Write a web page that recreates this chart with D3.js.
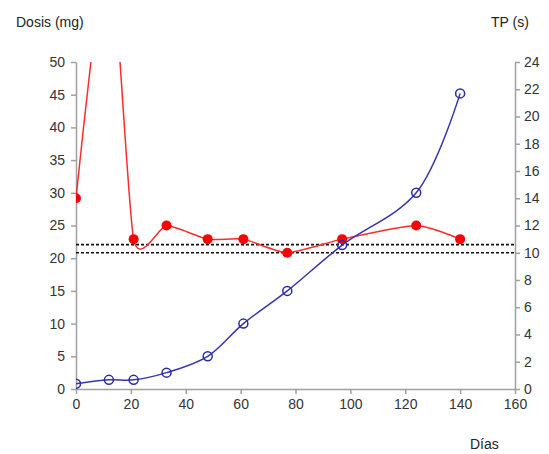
<!DOCTYPE html>
<html>
<head>
<meta charset="utf-8">
<script src="https://cdn.jsdelivr.net/npm/d3@7"></script>
<style>
  body { margin: 0; background: #fff; }
  text { font-family: "Liberation Sans", Arial, sans-serif; }
</style>
</head>
<body>
<div id="chart"></div>
<script>
// data
const dias = [0, 12, 21, 33, 48, 61, 77, 97, 124, 140];
const dosis = [0.8, 1.4, 1.4, 2.5, 5, 10, 15, 22, 30, 45.2];
const tp = [14, 33, 11, 12, 11, 11, 10, 11, 12, 11];
const tpLimits = [10.6, 10];
const xTicks = [0, 20, 40, 60, 80, 100, 120, 140, 160];
const dosisTicks = [0, 5, 10, 15, 20, 25, 30, 35, 40, 45, 50];
const tpTicks = [0, 2, 4, 6, 8, 10, 12, 14, 16, 18, 20, 22, 24];

const width = 549;
const height = 454;
const margin = { top: 62, right: 34, bottom: 65, left: 76 };

const svg = d3.select("#chart")
  .append("svg")
  .attr("width", width)
  .attr("height", height);

const x = d3.scaleLinear().domain([0, 160]).range([margin.left, width - margin.right]);
const yLeft = d3.scaleLinear().domain([0, 50]).range([height - margin.bottom, margin.top]);
const yRight = d3.scaleLinear().domain([0, 24]).range([height - margin.bottom, margin.top]);

// clip so the red peak is cut at the top
svg.append("clipPath")
  .attr("id", "plotclip")
  .append("rect")
  .attr("x", margin.left)
  .attr("y", margin.top)
  .attr("width", width - margin.left - margin.right)
  .attr("height", height - margin.top - margin.bottom);

function styleAxis(g) {
  g.select(".domain").attr("stroke", "#a0a0a0").attr("stroke-width", 1.5);
  g.selectAll(".tick line").attr("stroke", "#a0a0a0").attr("stroke-width", 1.5);
  g.selectAll(".tick text")
    .attr("fill", "#333")
    .style("font-size", "14px")
    .style("font-family", "Liberation Sans, Arial, sans-serif");
}

// x axis
svg.append("g")
  .attr("transform", `translate(0, ${height - margin.bottom})`)
  .call(d3.axisBottom(x).tickValues(xTicks).tickSize(5).tickSizeOuter(0).tickPadding(5))
  .call(styleAxis);

// left axis
svg.append("g")
  .attr("transform", `translate(${margin.left}, 0)`)
  .call(d3.axisLeft(yLeft).tickValues(dosisTicks).tickSize(5).tickSizeOuter(0).tickPadding(6))
  .call(styleAxis);

// right axis
svg.append("g")
  .attr("transform", `translate(${width - margin.right}, 0)`)
  .call(d3.axisRight(yRight).tickValues(tpTicks).tickSize(5).tickSizeOuter(0).tickPadding(4))
  .call(styleAxis);

// axis titles
svg.append("text").attr("x", 16).attr("y", 27).attr("fill", "#222")
  .style("font-size", "14px").text("Dosis (mg)");
svg.append("text").attr("x", 491).attr("y", 27).attr("fill", "#222")
  .style("font-size", "14px").text("TP (s)");
svg.append("text").attr("x", 470).attr("y", 449).attr("fill", "#222")
  .style("font-size", "14px").text("Días");

// dotted reference lines
svg.selectAll(".limit")
  .data(tpLimits)
  .join("line")
  .attr("class", "limit")
  .attr("x1", margin.left)
  .attr("x2", width - margin.right)
  .attr("y1", d => yRight(d))
  .attr("y2", d => yRight(d))
  .attr("stroke", "#111")
  .attr("stroke-width", 1.6)
  .attr("stroke-dasharray", "3,2");

const plot = svg.append("g").attr("clip-path", "url(#plotclip)");

// red TP series
const tpData = dias.map((d, i) => [d, tp[i]]);
plot.append("path")
  .datum(tpData)
  .attr("fill", "none")
  .attr("stroke", "#ff2a2a")
  .attr("stroke-width", 1.5)
  .attr("d", d3.line().x(d => x(d[0])).y(d => yRight(d[1])).curve(d3.curveCardinal.tension(0.4)));

plot.selectAll(".tpdot")
  .data(tpData)
  .join("circle")
  .attr("class", "tpdot")
  .attr("cx", d => x(d[0]))
  .attr("cy", d => yRight(d[1]))
  .attr("r", 5)
  .attr("fill", "#ff0000");

// blue dosis series
const dosisData = dias.map((d, i) => [d, dosis[i]]);
plot.append("path")
  .datum(dosisData)
  .attr("fill", "none")
  .attr("stroke", "#3535b0")
  .attr("stroke-width", 1.5)
  .attr("d", d3.line().x(d => x(d[0])).y(d => yLeft(d[1])).curve(d3.curveCatmullRom.alpha(0.5)));

plot.selectAll(".dosisdot")
  .data(dosisData)
  .join("circle")
  .attr("class", "dosisdot")
  .attr("cx", d => x(d[0]))
  .attr("cy", d => yLeft(d[1]))
  .attr("r", 4.5)
  .attr("fill", "none")
  .attr("stroke", "#2a2aa8")
  .attr("stroke-width", 1.5);
</script>
</body>
</html>
